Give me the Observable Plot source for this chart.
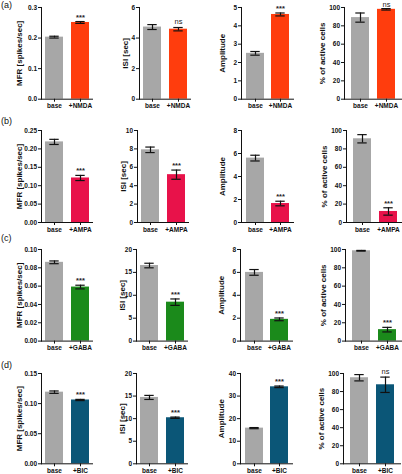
<!DOCTYPE html>
<html><head><meta charset="utf-8">
<script src="https://cdn.jsdelivr.net/npm/d3@7"></script>
<script src="https://cdn.jsdelivr.net/npm/@observablehq/plot@0.6"></script>
<style>
body{margin:0;background:#fff;}
#wrap{position:relative;width:402px;height:474px;overflow:hidden;font-family:"Liberation Sans",Arial,sans-serif;}
.panel{position:absolute;}
.tag{position:absolute;font-size:9px;color:#111;line-height:1;}
</style></head><body><div id="wrap"></div>
<script>
// ---- data ----
const rowTags = ["(a)","(b)","(c)","(d)"];
const baseLabel = "base";
const treatments = ["+NMDA","+AMPA","+GABA","+BIC"];
const baseColor = "#a7a7a7";
const treatColors = ["#ff3d0d","#e8124a","#1b8a1b","#0b5677"];
const metrics = ["MFR [spikes/sec]","ISI [sec]","Amplitude","% of active cells"];
const baseMeans = [[0.203,4.72,2.5,89],[0.219,7.9,5.6,91],[0.086,16.5,6.0,98.6],[0.119,14.7,15.8,95.3]];
const baseErr   = [[0.003,0.16,0.1,5],[0.007,0.3,0.25,4.5],[0.0015,0.5,0.25,0.4],[0.002,0.45,0.25,3.5]];
const treatMeans = [[0.251,4.58,4.62,98],[0.121,5.2,1.65,12],[0.059,8.5,1.9,12.5],[0.106,10.2,34.1,87.5]];
const treatErr   = [[0.003,0.11,0.08,0.8],[0.007,0.5,0.2,4],[0.002,0.7,0.12,2.5],[0.001,0.15,0.35,8.5]];
const signif = [["***","ns","***","ns"],["***","***","***","***"],["***","***","***","***"],["***","***","***","ns"]];
const yMax = [[0.3,6,5,100],[0.25,10,8,100],[0.10,20,8,100],[0.15,20,40,100]];
const yTicks = [
  [[0,0.1,0.2,0.3],[0,2,4,6],[0,1,2,3,4,5],[0,20,40,60,80,100]],
  [[0,0.05,0.1,0.15,0.2,0.25],[0,2,4,6,8,10],[0,2,4,6,8],[0,20,40,60,80,100]],
  [[0,0.02,0.04,0.06,0.08,0.1],[0,5,10,15,20],[0,2,4,6,8],[0,20,40,60,80,100]],
  [[0,0.05,0.1,0.15],[0,5,10,15,20],[0,10,20,30,40],[0,20,40,60,80,100]]
];
const yTickFormats = [
  [".1f","d","d","d"],
  [".2f","d","d","d"],
  [".2f","d","d","d"],
  [".2f","d","d","d"]
];

// ---- layout ----
const rowTop  = [7.3, 130, 248.7, 372.7];
const rowZero = [99, 222, 340.3, 463];
const axisX = [
  [41, 138.5, 240.5, 344],
  [40.7, 136.5, 240.7, 345.5],
  [40.7, 136, 240, 345],
  [41, 136, 240, 343]
];
const plotW = [52, 52, 53, 58];
const outerPad = [0.15, 0.15, 0.17, 0.25];
const labelOffsets = [25, 17, 22, 25];
const tagTop = [1, 117, 234, 361];
const FONT = '"Liberation Sans", Arial, sans-serif';

const wrap = document.getElementById("wrap");
rowTags.forEach((t, r) => {
  const d = document.createElement("div");
  d.className = "tag"; d.textContent = t;
  d.style.left = "1px"; d.style.top = tagTop[r] + "px";
  wrap.appendChild(d);
});

for (let r = 0; r < 4; r++) {
  for (let c = 0; c < 4; c++) {
    const data = [
      {g: baseLabel, v: baseMeans[r][c], e: baseErr[r][c], col: baseColor},
      {g: treatments[r], v: treatMeans[r][c], e: treatErr[r][c], col: treatColors[r]}
    ];
    const ml = 46, mt = 14, mb = 11, mr = 4;
    const ph = rowZero[r] - rowTop[r];
    const W = plotW[c];
    const fmt = d3.format(yTickFormats[r][c]);
    const sig = signif[r][c];
    const isNs = sig === "ns";
    const sigDy = isNs ? (r === 0 && c === 3 ? -1.3 : -3.5) : -2;
    const svg = Plot.plot({
      width: ml + W + mr, height: mt + ph + mb,
      marginLeft: ml, marginRight: mr, marginTop: mt, marginBottom: mb,
      style: {fontFamily: FONT, background: "transparent", overflow: "visible", color: "#111"},
      x: {domain: [baseLabel, treatments[r]], paddingInner: 0.3, paddingOuter: outerPad[c], axis: null},
      y: {domain: [0, yMax[r][c]], axis: null},
      color: {type: "identity"},
      marks: [
        Plot.barY(data, {x: "g", y: "v", fill: "col"}),
        Plot.ruleX(data, {x: "g", y1: d => d.v - d.e, y2: d => d.v + d.e, stroke: "#111", strokeWidth: 1.2}),
        Plot.tickY(data, {x: "g", y: d => d.v + d.e, stroke: "#111", strokeWidth: 1.2, insetLeft: 4.3, insetRight: 4.3}),
        Plot.tickY(data, {x: "g", y: d => d.v - d.e, stroke: "#111", strokeWidth: 1.2, insetLeft: 4.3, insetRight: 4.3}),
        Plot.text([data[1]], {x: "g", y: d => d.v + d.e, text: () => sig,
          lineAnchor: "bottom", dy: sigDy,
          fontSize: isNs ? 7.5 : 7.5, fontWeight: isNs ? "normal" : "bold", fill: "#222"}),
        Plot.ruleY([0], {stroke: "#111", strokeWidth: 1}),
        Plot.frame({anchor: "left", stroke: "#111", strokeWidth: 1}),
        Plot.axisY({ticks: yTicks[r][c], tickFormat: fmt, tickSize: 3, tickPadding: 1.5,
          fontSize: 6.5, fontWeight: "bold", label: null, stroke: "#111"}),
        Plot.axisY({ticks: [], label: metrics[c], labelAnchor: "center", labelArrow: "none",
          labelOffset: labelOffsets[c], fontSize: 8, fontWeight: "bold"}),
        Plot.axisX({tickSize: 3, tickPadding: 1.5, fontSize: 6.5, fontWeight: "bold", label: null, stroke: "#111"})
      ]
    });
    svg.classList.add("panel");
    svg.style.left = (axisX[r][c] - ml) + "px";
    svg.style.top = (rowTop[r] - mt) + "px";
    wrap.appendChild(svg);
  }
}
</script>
</body></html>
